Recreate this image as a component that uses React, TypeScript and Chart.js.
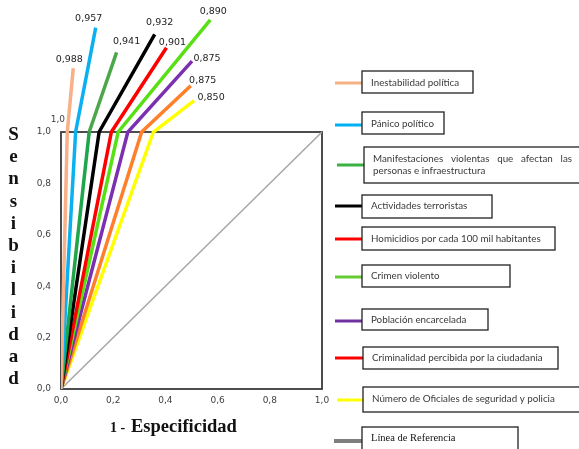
import React, { useEffect, useRef } from 'react';
import { Chart, registerables } from 'chart.js';

Chart.register(...registerables);

// ---------- data ----------
const seriesNames = [
  'Inestabilidad política',
  'Pánico político',
  'Manifestaciones violentas que afectan las personas e infraestructura',
  'Actividades terroristas',
  'Homicidios por cada 100 mil habitantes',
  'Crimen violento',
  'Población encarcelada',
  'Criminalidad percibida por la ciudadanía',
  'Número de Oficiales de seguridad y policia',
];
const aucLabels = ['0,988', '0,957', '0,941', '0,932', '0,901', '0,890', '0,875', '0,875', '0,850'];
const startX = [0, 0, 0, 0, 0, 0, 0, 0, 0];
const startY = [0, 0, 0, 0, 0, 0, 0, 0, 0];
const kneeX = [0.024, 0.056, 0.108, 0.146, 0.193, 0.219, 0.256, 0.309, 0.354];
const kneeY = [1.0, 1.0, 1.0, 1.0, 1.0, 1.0, 1.0, 1.0, 1.0];
const endX = [0.047, 0.133, 0.213, 0.359, 0.404, 0.572, 0.502, 0.497, 0.51];
const endY = [1.248, 1.406, 1.31, 1.38, 1.328, 1.436, 1.276, 1.18, 1.122];
const refX = [0, 1];
const refY = [0, 1];
const xTicks = [0, 0.2, 0.4, 0.6, 0.8, 1.0];
const yTicks = [0, 0.2, 0.4, 0.6, 0.8, 1.0];
const legendNames = [
  ['Inestabilidad política'],
  ['Pánico político'],
  ['Manifestaciones violentas que afectan las', 'personas e infraestructura'],
  ['Actividades terroristas'],
  ['Homicidios por cada 100 mil habitantes'],
  ['Crimen violento'],
  ['Población encarcelada'],
  ['Criminalidad percibida por la ciudadania'],
  ['Número de Oficiales de seguridad y policia'],
  ['Línea de Referencia'],
];

// ---------- styles / layout ----------
const curveColors = ['#F8B088', '#0AB0F0', '#1FA64A', '#000000', '#FF0000', '#58E014', '#7A30B0', '#FF7F2A', '#FFFF00'];
const upperColors = ['#F8B088', '#0AB0F0', '#4CA64C', '#000000', '#FF0000', '#58E014', '#7A30B0', '#FF7F2A', '#FFFF00'];
const legendColors = ['#F4B183', '#00B0F0', '#3CB043', '#000000', '#FF0000', '#66CC33', '#7030A0', '#FF0000', '#FFFF00', '#7F7F7F'];
const labelOffsets = [[-4, -9], [-7, -9], [10, -11], [5, -12], [6, -5], [3, -8], [15, -3], [12, -5], [17, -3]];
const legendBoxes = [
  [362, 71, 111, 22], [362, 112, 82, 22], [364, 147, 230, 36], [362, 195, 130, 23], [362, 227, 193, 23],
  [362, 265, 148, 22], [362, 309, 126, 21], [363, 347, 195, 22], [363, 387, 230, 25], [362, 427, 156, 40],
];
const legendLineY = [83, 125, 165, 206, 239, 277, 321, 358, 400, 441];
const legendLineX0 = [335, 335, 337, 335, 335, 335, 335, 335, 337, 334];
const legendTextY = [83, 124, 0, 206, 239, 276, 320, 358, 399, 438];

const W = 579;
const H = 449;
const PX_PER_UNIT = 257; // vertical pixels for one unit of sensitivity
const fmt = (v: number) => v.toFixed(1).replace('.', ',');

const overlay = {
  id: 'overlay',
  beforeDatasetsDraw(chart: any) {
    const { ctx, scales } = chart;
    const x = scales.x, y = scales.y;
    const l = x.getPixelForValue(0), r = x.getPixelForValue(1);
    const t = y.getPixelForValue(1), b = y.getPixelForValue(0);
    ctx.save();
    ctx.strokeStyle = '#3a3a3a';
    ctx.lineWidth = 1.8;
    ctx.strokeRect(l, t, r - l, b - t);
    ctx.restore();
  },
  afterDraw(chart: any) {
    const { ctx } = chart;
    ctx.save();
    ctx.font = '9.5px "DejaVu Sans"';
    ctx.fillStyle = '#222';
    ctx.textAlign = 'center';
    ctx.textBaseline = 'middle';
    aucLabels.forEach((lab, i) => {
      const meta = chart.getDatasetMeta(i);
      const pt = meta.data[meta.data.length - 1];
      ctx.fillText(lab, pt.x + labelOffsets[i][0], pt.y + labelOffsets[i][1]);
    });
    ctx.font = '9px "DejaVu Sans"';
    ctx.fillStyle = '#404040';
    ctx.textAlign = 'right';
    ctx.fillText(fmt(1), 65, 120);

    ctx.font = 'bold 19px "Liberation Serif"';
    ctx.fillStyle = '#111';
    ctx.textAlign = 'center';
    'Sensibilidad'.split('').forEach((c, k) => ctx.fillText(c, 13.5, 135 + k * 22.2));

    ctx.textAlign = 'left';
    ctx.textBaseline = 'alphabetic';
    ctx.font = 'bold 14px "Liberation Serif"';
    ctx.fillText('1 -', 110, 432);
    ctx.font = 'bold 18.5px "Liberation Serif"';
    ctx.fillText('Especificidad', 131, 432);

    legendNames.forEach((lines, i) => {
      const [bx, by, bw, bh] = legendBoxes[i];
      ctx.strokeStyle = legendColors[i];
      ctx.lineWidth = i === 9 ? 4 : 3;
      ctx.beginPath();
      ctx.moveTo(legendLineX0[i], legendLineY[i]);
      ctx.lineTo(bx, legendLineY[i]);
      ctx.stroke();
      ctx.fillStyle = '#ffffff';
      ctx.fillRect(bx, by, bw, bh);
      ctx.strokeStyle = '#222';
      ctx.lineWidth = 1.3;
      ctx.strokeRect(bx, by, bw, bh);
      ctx.fillStyle = i === 9 ? '#111' : '#3a3a3a';
      ctx.font = i === 9 ? '10.5px "Liberation Serif"' : '9.8px Lato';
      ctx.textBaseline = 'middle';
      ctx.textAlign = 'left';
      const tx = bx + 9;
      if (lines.length === 2) {
        const words = lines[0].split(' ');
        const target = 199;
        const wsum = words.reduce((s, w) => s + ctx.measureText(w).width, 0);
        const gap = (target - wsum) / (words.length - 1);
        let cx = tx;
        words.forEach((w) => {
          ctx.fillText(w, cx, 159);
          cx += ctx.measureText(w).width + gap;
        });
        ctx.fillText(lines[1], tx, 171);
      } else {
        ctx.fillText(lines[0], tx, legendTextY[i]);
      }
    });
    ctx.restore();
  },
};

export default function App() {
  const ref = useRef<HTMLCanvasElement>(null);
  useEffect(() => {
    document.body.style.margin = '0';
    const canvas = ref.current!;
    const datasets: any[] = seriesNames.map((name, i) => ({
      label: name,
      data: [
        { x: startX[i], y: startY[i] },
        { x: kneeX[i], y: kneeY[i] },
        { x: endX[i], y: endY[i] },
      ],
      borderColor: curveColors[i],
      segment: {
        borderColor: (c: any) => (c.p0DataIndex === 1 ? upperColors[i] : curveColors[i]),
      },
      borderWidth: 3.5,
      pointRadius: 0,
      fill: false,
      tension: 0,
    }));
    datasets.push({
      label: 'Línea de Referencia',
      data: refX.map((v, k) => ({ x: v, y: refY[k] })),
      borderColor: '#A6A6A6',
      borderWidth: 1.5,
      pointRadius: 0,
      fill: false,
    });
    const tickFont = { family: '"DejaVu Sans"', size: 9 };
    const chart: any = new Chart(canvas, {
      type: 'line',
      data: { datasets },
      options: {
        animation: false,
        responsive: false,
        devicePixelRatio: 1,
        layout: { padding: { left: 0, right: 257, top: 0, bottom: 0 } },
        plugins: { legend: { display: false }, tooltip: { enabled: false }, title: { display: false } },
        scales: {
          x: {
            type: 'linear',
            min: 0,
            max: 1,
            grid: { display: false, drawTicks: false },
            border: { display: false },
            title: { display: false },
            ticks: { padding: 6, color: '#404040', font: tickFont, autoSkip: false, maxRotation: 0, callback: (v: any) => fmt(Number(v)) },
            afterBuildTicks: (s: any) => { s.ticks = xTicks.map((v) => ({ value: v })); },
            afterFit: (s: any) => { s.height = 60; },
          },
          y: {
            type: 'linear',
            min: 0,
            max: 1.5,
            grid: { display: false, drawTicks: false },
            border: { display: false },
            title: { display: false },
            ticks: { padding: 10, color: '#404040', font: tickFont, autoSkip: false, callback: (v: any) => fmt(Number(v)) },
            afterBuildTicks: (s: any) => { s.ticks = yTicks.map((v) => ({ value: v })); },
            afterFit: (s: any) => { s.width = 61; },
          },
        },
      },
      plugins: [overlay],
    } as any);
    const area = chart.chartArea;
    chart.options.scales.y.max = (area.bottom - area.top) / PX_PER_UNIT;
    chart.update();
    return () => chart.destroy();
  }, []);
  return (
    <div style={{ width: W, height: H, background: '#fff' }}>
      <canvas ref={ref} width={W} height={H} style={{ display: 'block' }} />
    </div>
  );
}
